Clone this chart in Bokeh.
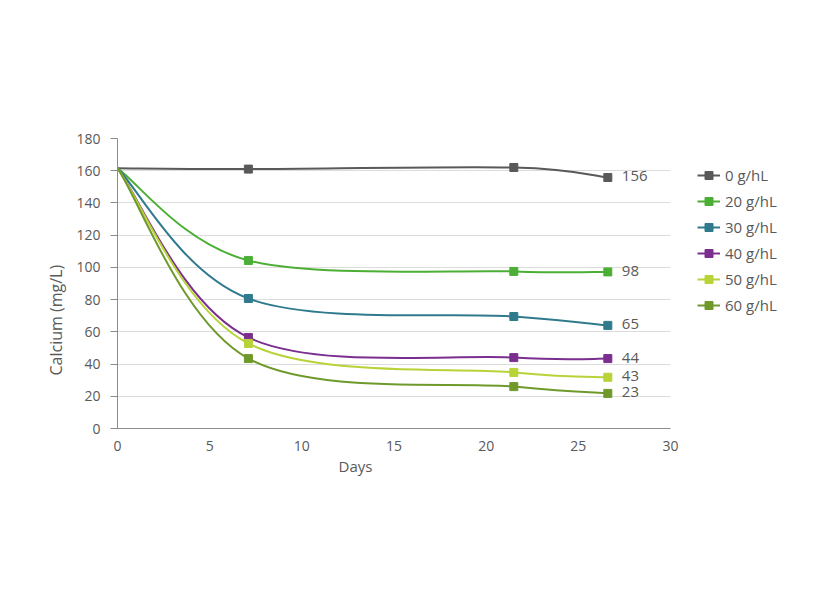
from bokeh.plotting import figure
from bokeh.models import ColumnDataSource, Legend, LegendItem, Title, FixedTicker
from bokeh.core.properties import value
from bokeh.embed import file_html
from bokeh.resources import INLINE

FONT = "Open Sans"
GREY = "#595959"

days = [0, 7.1, 21.5, 26.6]
series = ["0 g/hL", "20 g/hL", "30 g/hL", "40 g/hL", "50 g/hL", "60 g/hL"]
calcium_0 = [161.5, 161, 162, 155.8]
calcium_20 = [161.5, 104.3, 97.5, 97.2]
calcium_30 = [161.5, 80.7, 69.5, 64.0]
calcium_40 = [161.5, 56.5, 44.0, 43.4]
calcium_50 = [161.5, 52.8, 34.8, 31.8]
calcium_60 = [161.5, 43.4, 26.0, 21.8]
end_labels = ["156", "98", "65", "44", "43", "23"]
colors = ["#595959", "#4caf35", "#2f7b8d", "#7a2f8f", "#b7d337", "#6f9a2b"]

values = [calcium_0, calcium_20, calcium_30, calcium_40, calcium_50, calcium_60]


def smooth_segments(xs, ys):
    # Excel-like smoothing: cubic bezier segments with catmull-rom control points
    n = len(xs)
    seg = dict(x0=[], y0=[], x1=[], y1=[], cx0=[], cy0=[], cx1=[], cy1=[])
    for i in range(n - 1):
        pm = max(i - 1, 0)
        pp = min(i + 2, n - 1)
        seg["x0"].append(xs[i])
        seg["y0"].append(ys[i])
        seg["x1"].append(xs[i + 1])
        seg["y1"].append(ys[i + 1])
        seg["cx0"].append(xs[i] + (xs[i + 1] - xs[pm]) / 6)
        seg["cy0"].append(ys[i] + (ys[i + 1] - ys[pm]) / 6)
        seg["cx1"].append(xs[i + 1] - (xs[pp] - xs[i]) / 6)
        seg["cy1"].append(ys[i + 1] - (ys[pp] - ys[i]) / 6)
    return seg


p = figure(
    frame_width=553, frame_height=290,
    x_range=(0, 30), y_range=(0, 180),
    output_backend="svg", toolbar_location=None,
    min_border_left=117, min_border_right=129,
    min_border_top=138, min_border_bottom=132,
)
p.outline_line_color = None
p.background_fill_color = "white"
p.border_fill_color = "white"

p.xgrid.grid_line_color = None
p.ygrid.grid_line_color = "#dcdcdc"
p.ygrid.grid_line_width = 1

p.xaxis.ticker = FixedTicker(ticks=[0, 5, 10, 15, 20, 25, 30])
p.yaxis.ticker = FixedTicker(ticks=list(range(0, 181, 20)))
for ax in (p.xaxis, p.yaxis):
    ax.axis_line_color = "#8c8c8c"
    ax.major_tick_line_color = "#8c8c8c"
    ax.minor_tick_line_color = None
    ax.major_label_text_font = FONT
    ax.major_label_text_font_size = "14px"
    ax.major_label_text_color = GREY
p.xaxis.major_tick_out = 0
p.xaxis.major_tick_in = 0
p.xaxis.major_label_standoff = 12
p.yaxis.major_tick_out = 7
p.yaxis.major_tick_in = 0
p.yaxis.major_label_standoff = 10

items = []
for name, ys, col in zip(series, values, colors):
    src = ColumnDataSource(smooth_segments(days, ys))
    curve = p.bezier(x0="x0", y0="y0", x1="x1", y1="y1", cx0="cx0", cy0="cy0",
                     cx1="cx1", cy1="cy1", source=src, line_color=col, line_width=2)
    pts = p.scatter(days[1:], ys[1:], marker="square", size=8,
                    fill_color=col, line_color=col)
    items.append(LegendItem(label=name, renderers=[curve, pts]))

last_x = [days[-1]] * len(series)
last_y = [v[-1] for v in values]
p.text(x=last_x, y=last_y, text=end_labels, x_offset=14, y_offset=-1,
       text_font=value(FONT), text_font_size="15px", text_color=GREY,
       text_align="left", text_baseline="middle")

legend = Legend(items=items, location="top_left", orientation="vertical")
legend.background_fill_alpha = 0
legend.border_line_color = None
legend.label_text_font = FONT
legend.label_text_font_size = "15px"
legend.label_text_color = GREY
legend.glyph_width = 23
legend.glyph_height = 20
legend.label_height = 20
legend.spacing = 6
legend.padding = 0
legend.margin = 27
legend.label_standoff = 5
p.add_layout(legend, "right")

# axis titles placed off-centre as in the original
p.add_layout(Title(text="Days", align="left", offset=221, text_font=FONT,
                   text_font_size="15px", text_font_style="normal",
                   text_color=GREY, standoff=1), "below")
p.add_layout(Title(text="Calcium (mg/L)", align="left", offset=53, text_font=FONT,
                   text_font_size="16px", text_font_style="normal",
                   text_color=GREY, standoff=13), "left")

open("out.html", "w").write(file_html(p, INLINE))
